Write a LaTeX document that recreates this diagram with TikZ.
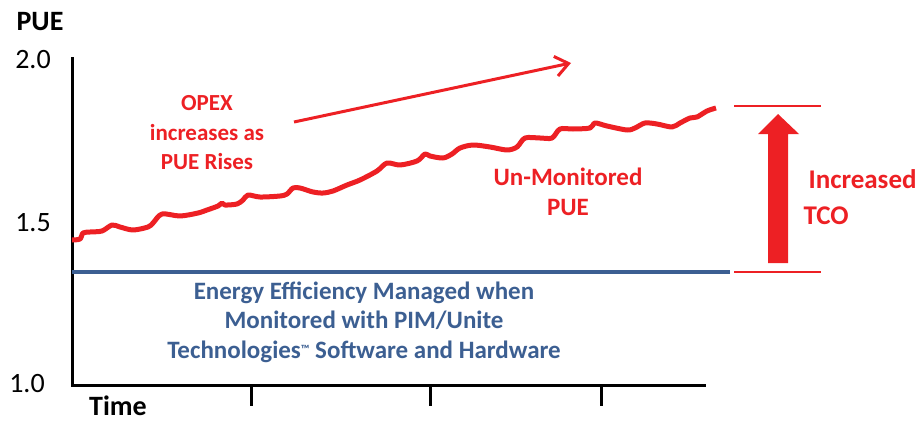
\documentclass[tikz,border=0pt]{standalone}
\usepackage{fontspec}
\setmainfont{Carlito}
\usetikzlibrary{arrows.meta}
\definecolor{pimred}{HTML}{ED2024}
\definecolor{pimblue}{HTML}{3C5F92}
\newcommand{\tmark}{{\fontsize{12}{12}\selectfont\raisebox{5pt}{™}}}
\tikzset{
  % assi e tacche
  axis line/.style={line width=3pt, black},
  % numeri sull'asse y
  axis num/.style={font=\fontsize{28}{30}\selectfont},
  % titoli degli assi
  axis title/.style={font=\bfseries\fontsize{28}{30}\selectfont},
  % testi rossi
  red label/.style={text=pimred, align=center, font=\bfseries\fontsize{23}{29.5}\selectfont},
  % testo blu sotto la linea
  blue label/.style={text=pimblue, align=center, font=\bfseries\fontsize{25}{29.5}\selectfont},
  % linee sottili del TCO
  tco line/.style={pimred, line width=2.5pt}
}

\begin{document}
\begin{tikzpicture}[x=1pt, y=-1pt]
  \useasboundingbox (0,0) rectangle (917,423);

  % assi
  \coordinate (top) at (72,57);
  \coordinate (origin) at (72,385);
  \coordinate (xend) at (706,385);
  \draw[axis line] (top) -- (origin) -- (xend);
  \foreach \x in {251,430,601}
    \draw[axis line] (\x,385) -- (\x,406);

  \node[axis title] (pue) at (40,22) {PUE};
  \node[axis num] (two) at (33,60) {2.0};
  \node[axis num] (onefive) at (33,223) {1.5};
  \node[axis num] (one) at (27,384) {1.0};
  \node[axis title, anchor=base, inner sep=0pt] (time) at (118,415) {Time};

  % linea blu monitorata
  \coordinate (bluestart) at (72,272);
  \coordinate (blueend) at (730,272);
  \draw[pimblue, line width=4pt] (bluestart) -- (blueend);
  \node[blue label] (managed) at (364,322) {Energy Efficiency Managed when\\Monitored with PIM/Unite\\Technologies\tmark{} Software and Hardware};

  % PUE non monitorato
  \draw[pimred, line width=5pt, line join=round] plot[smooth, tension=0.5] coordinates {
    (72,240) (80,239) (83,233) (90,232) (102,231) (112,225) (120,227) (133,230)
    (148,227) (153,223) (162,214) (180,216) (198,213) (207,210) (218,206) (222,203)
    (225,205) (237,204) (243,200) (248,195) (260,197) (280,196) (287,194) (293,188)
    (300,188) (313,192) (323,193) (333,191) (347,185) (360,180) (377,171) (387,163)
    (400,165) (417,161) (425,154) (430,156) (443,158) (452,154) (460,148) (473,145)
    (490,147) (507,150) (517,147) (525,138) (540,138) (552,138) (560,129) (573,129)
    (590,128) (595,123) (607,126) (627,130) (635,128) (645,123) (657,124) (672,127)
    (680,123) (690,118) (697,117) (707,111) (716,108)};

  \node[red label] (opex) at (207,133) {OPEX\\increases as\\PUE Rises};
  \coordinate (opexa) at (294,122);
  \coordinate (opexb) at (571,63);
  \draw[pimred, line width=3pt, -{Straight Barb[length=13pt, width=20pt]}] (opexa) -- (opexb);

  \node[red label, font=\bfseries\fontsize{25}{30}\selectfont] (unmon) at (568,192) {Un-Monitored\\PUE};

  % TCO
  \coordinate (tcotopl) at (734,106);
  \coordinate (tcotopr) at (821,106);
  \coordinate (tcobotl) at (734,272);
  \coordinate (tcobotr) at (821,272);
  \draw[tco line] (tcotopl) -- (tcotopr);
  \draw[tco line] (tcobotl) -- (tcobotr);
  \fill[pimred] (768,263) -- (768,134) -- (758,134) -- (778,114) -- (799,134)
    -- (788,134) -- (788,263) -- cycle;
  \node[red label, font=\bfseries\fontsize{27}{36}\selectfont, align=left, anchor=west] (tco) at (800,197) {\hspace{5pt}Increased\\TCO};
\end{tikzpicture}
\end{document}
